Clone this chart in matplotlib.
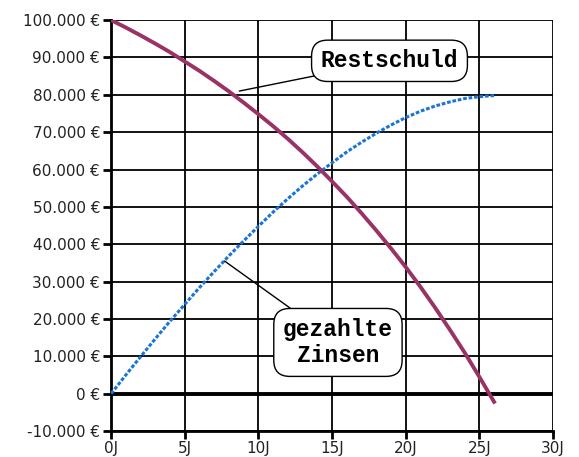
import matplotlib
matplotlib.use("Agg")
import matplotlib.pyplot as plt
from matplotlib.ticker import FixedLocator

years = list(range(0, 27))
restschuld = [100000, 98000, 95900, 93700, 91400, 88900, 86400, 83700, 80900, 77900,
              74800, 71600, 68200, 64600, 60800, 56800, 52700, 48300, 43700, 38900,
              33900, 28600, 23000, 17100, 11000, 4500, -2200]
zinsen = [0, 5000, 9900, 14700, 19400, 23900, 28400, 32700, 36900, 40900,
          44800, 48600, 52200, 55600, 58800, 61800, 64700, 67300, 69700, 71900,
          73900, 75600, 77000, 78100, 79000, 79500, 79800]
x_ticks = [0, 5, 10, 15, 20, 25, 30]
x_labels = ["0J", "5J", "10J", "15J", "20J", "25J", "30J"]
y_ticks = [-10000, 0, 10000, 20000, 30000, 40000, 50000, 60000, 70000, 80000, 90000, 100000]
y_labels = ["-10.000 €", "0 €", "10.000 €", "20.000 €", "30.000 €", "40.000 €", "50.000 €",
            "60.000 €", "70.000 €", "80.000 €", "90.000 €", "100.000 €"]

fig = plt.figure(figsize=(5.79, 4.57), dpi=100)
ax = fig.add_axes([0.192, 0.057, 0.763, 0.899])
ax.set_xlim(0, 30)
ax.set_ylim(-10000, 100000)

ax.xaxis.set_major_locator(FixedLocator(x_ticks))
ax.yaxis.set_major_locator(FixedLocator(y_ticks))
ax.set_xticklabels(x_labels)
ax.set_yticklabels(y_labels)
ax.grid(True, color="black", linewidth=1.3)
ax.set_axisbelow(True)
for s in ["top", "right"]:
    ax.spines[s].set_visible(False)
for s in ["left", "bottom"]:
    ax.spines[s].set_linewidth(2.0)
ax.axhline(0, color="black", linewidth=2.8, zorder=1.5)
ax.tick_params(axis="both", direction="out", length=6, width=2, labelsize=11,
               colors="black", labelcolor="#222222")
ax.tick_params(axis="y", pad=2)
ax.tick_params(axis="x", pad=1)

ax.plot(years, zinsen, color="#1a73d9", linewidth=2.2, linestyle=(0, (1.2, 0.6)), zorder=3)
ax.plot(years, restschuld, color="#993366", linewidth=2.8, zorder=4)

bbox = dict(boxstyle="round,pad=0.4,rounding_size=0.7", fc="white", ec="black", lw=1)
ax.annotate("Restschuld", xy=(8.7, 81000), xytext=(18.9, 89100),
            fontsize=16.5, fontweight="bold", family="Liberation Mono",
            ha="center", va="center", bbox=bbox,
            arrowprops=dict(arrowstyle="-", color="black", lw=1, shrinkA=0, shrinkB=0))
ax.annotate("gezahlte\nZinsen", xy=(7.7, 35500), xytext=(15.4, 13700),
            fontsize=16.5, fontweight="bold", family="Liberation Mono",
            ha="center", va="center", bbox=bbox, linespacing=1.2,
            arrowprops=dict(arrowstyle="-", color="black", lw=1, shrinkA=0, shrinkB=0))

fig.savefig("out.png", dpi=100)
